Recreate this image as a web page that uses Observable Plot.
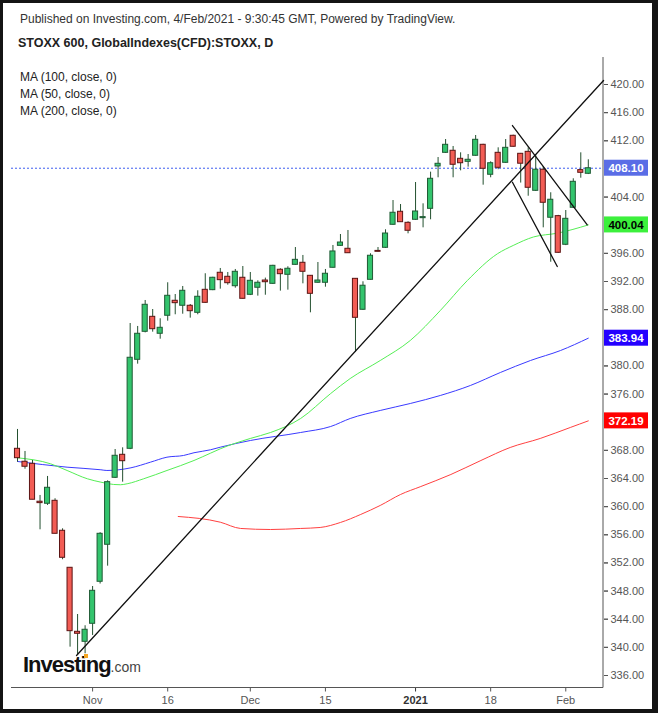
<!DOCTYPE html>
<html><head><meta charset="utf-8">
<script src="https://cdn.jsdelivr.net/npm/d3@7"></script>
<script src="https://cdn.jsdelivr.net/npm/@observablehq/plot@0.6"></script>
<style>
body{margin:0;background:#141414;font-family:"Liberation Sans",Arial,sans-serif;}
#wrap{position:relative;width:658px;height:713px;background:#141414;overflow:hidden}
#paper{position:absolute;left:3px;top:3px;width:649px;height:706px;background:#fff}
#chart{position:absolute;left:0;top:0}
.t{position:absolute;white-space:nowrap;color:#222;font-size:12px;line-height:14px}
</style></head><body>
<div id="wrap"><div id="paper"></div><div id="chart"></div>
<div class="t" style="left:20px;top:12px;color:#333">Published on Investing.com, 4/Feb/2021 - 9:30:45 GMT, Powered by TradingView.</div>
<div class="t" style="left:18px;top:36px;font-weight:bold;font-size:12.5px">STOXX 600, GlobalIndexes(CFD):STOXX, D</div>
<div id="legend"></div>
<div class="t" style="left:23px;top:652px;font-size:22px;line-height:26px;font-weight:bold;letter-spacing:-1px;color:#111">Investing<span style="font-size:14px;font-weight:normal;letter-spacing:0;color:#444">.com</span></div>
<div style="position:absolute;left:84px;top:654px;width:4px;height:4px;background:#f5a623"></div>
</div>
<script>
// ---- data ----
const dates = ["2020-10-19","2020-10-20","2020-10-21","2020-10-22","2020-10-23","2020-10-26","2020-10-27","2020-10-28","2020-10-29","2020-10-30",
"2020-11-02","2020-11-03","2020-11-04","2020-11-05","2020-11-06","2020-11-09","2020-11-10","2020-11-11","2020-11-12","2020-11-13","2020-11-16","2020-11-17","2020-11-18","2020-11-19","2020-11-20","2020-11-23","2020-11-24","2020-11-25","2020-11-26","2020-11-27","2020-11-30",
"2020-12-01","2020-12-02","2020-12-03","2020-12-04","2020-12-07","2020-12-08","2020-12-09","2020-12-10","2020-12-11","2020-12-14","2020-12-15","2020-12-16","2020-12-17","2020-12-18","2020-12-21","2020-12-22","2020-12-23","2020-12-24","2020-12-28","2020-12-29","2020-12-30","2020-12-31",
"2021-01-04","2021-01-05","2021-01-06","2021-01-07","2021-01-08","2021-01-11","2021-01-12","2021-01-13","2021-01-14","2021-01-15","2021-01-18","2021-01-19","2021-01-20","2021-01-21","2021-01-22","2021-01-25","2021-01-26","2021-01-27","2021-01-28","2021-01-29",
"2021-02-01","2021-02-02","2021-02-03","2021-02-04"];
const open = [368.22,366.38,366.09,360.70,360.41,360.83,356.57,351.31,342.21,340.79,
343.35,349.32,354.58,364.10,367.37,368.22,380.87,384.85,386.98,384.57,387.13,389.26,388.55,388.55,387.55,390.82,390.77,393.24,392.67,391.33,392.53,
390.11,391.11,392.14,391.67,393.67,392.95,394.37,394.66,392.81,391.82,391.82,393.95,397.07,396.65,392.38,387.98,392.24,396.35,396.79,400.06,401.91,400.34,
400.77,401.00,402.33,408.35,410.29,410.58,409.44,409.01,409.87,411.43,407.17,410.29,408.87,412.71,410.15,410.43,404.89,407.89,401.06,401.29,
397.22,402.48,407.83,407.31];
const high = [370.97,367.84,366.56,361.59,364.29,361.12,356.85,351.31,344.67,343.07,
348.65,356.30,363.67,368.12,368.36,386.03,385.61,389.30,388.02,386.70,391.82,390.15,391.29,388.73,390.68,393.10,392.60,393.85,393.28,393.71,394.13,
393.28,392.10,392.48,394.30,393.81,394.09,396.83,395.70,392.85,394.70,393.71,397.12,398.68,399.25,392.40,391.96,395.94,396.83,399.35,403.51,402.94,400.49,
406.07,403.04,407.54,409.62,412.18,411.19,410.29,410.05,412.75,411.50,409.01,411.00,412.18,412.80,410.20,411.00,410.01,408.30,404.61,401.40,
402.09,406.60,410.29,409.30];
const low = [366.32,365.32,360.98,356.71,360.17,356.14,352.45,340.03,338.85,339.09,
341.69,349.00,351.54,364.00,363.48,368.10,380.25,384.70,384.80,383.80,386.36,387.27,387.35,386.79,387.27,388.90,390.70,390.91,391.48,391.05,389.50,
390.00,389.92,390.05,391.60,390.63,390.77,394.30,391.67,387.55,391.75,391.19,393.90,397.00,396.00,381.95,387.90,392.20,396.20,396.70,400.00,400.40,398.78,
400.70,399.63,400.77,406.74,410.20,406.74,407.73,408.25,409.80,405.69,406.74,407.89,408.80,411.10,405.99,404.12,404.80,399.63,394.74,396.00,
397.10,402.40,406.68,407.20];
const close = [366.89,365.67,360.98,360.50,362.68,356.14,352.73,342.30,341.93,342.50,
348.04,356.14,363.48,367.23,366.46,381.16,384.57,388.69,385.22,385.42,389.97,388.92,390.68,387.78,389.83,388.97,392.53,392.19,391.76,393.38,389.54,
392.10,391.82,391.90,394.23,393.04,393.81,395.08,393.38,390.25,392.14,393.10,396.27,397.54,396.02,386.84,391.40,395.66,396.22,398.82,401.77,400.43,399.21,
401.95,401.15,406.60,408.73,411.43,408.59,408.81,409.30,412.14,408.02,408.81,408.16,411.00,411.15,408.74,405.32,407.89,403.19,403.62,396.08,
400.91,406.17,407.45,408.10];

// moving averages (sampled points: candle index, value)
const ma50Idx = [0,4.4,6.6,9.3,11.1,12.8,13.7,14.6,16.8,19.9,23.5,25.7,27.0,31.0,33.7,37.7,41.7,44.3,48.3,52.3,56.3,59.9,63.9,66.0,68.7,71.9,76];
const ma50Val = [366.94,366.09,365.14,363.96,363.48,363.15,363.11,363.25,363.96,365.14,366.56,367.6,368.22,369.69,370.54,372.53,376.08,378.21,380.77,383.62,387.88,392.14,395.94,397.12,398.33,398.87,400.04];
const ma100Idx = [0,6.6,11.1,11.9,15.1,17.7,19.9,22.1,23.5,25.7,27.0,31.0,37.7,41.7,44.3,48.3,52.3,56.3,60.3,64.3,68.3,72.3,76];
const ma100Val = [366.42,365.61,365.24,365.14,365.52,366.32,367.03,367.27,367.66,368.08,368.45,369.40,370.54,371.39,372.53,373.67,374.66,375.80,377.22,379.07,380.77,382.19,383.94];
const ma200Idx = [21.4,27.0,29.7,33.7,37.7,40.3,43.0,45.7,48.3,51.0,53.7,57.7,61.7,65.6,69.6,73.6,76];
const ma200Val = [358.60,357.79,356.90,356.75,356.90,357.04,357.75,358.89,360.17,361.73,362.86,364.57,366.56,368.41,369.69,371.25,372.19];

// drawn trendlines (candle index, price)
const trendIdx = [7.86, 78.03];   const trendVal = [338.85, 420.57];
const flagUpIdx = [65.9, 75.86];  const flagUpVal = [414.17, 400.06];
const flagLoIdx = [65.9, 71.87];  const flagLoVal = [406.11, 394.13];

const maLabels = ["MA (100, close, 0)", "MA (50, close, 0)", "MA (200, close, 0)"];
const badgeValues = [408.10, 400.04, 383.94, 372.19];
const yTicks = d3.range(336, 421, 4);
const xTickIdx = [10, 20, 31, 41, 53, 63, 73];
const xTickLabels = ["Nov", "16", "Dec", "15", "2021", "18", "Feb"];

// ---- build ----
const candles = dates.map((d, i) => ({i, date: d, o: open[i], h: high[i], l: low[i], c: close[i], up: close[i] >= open[i]}));
const pts = (I, V) => I.map((i, k) => ({i, v: V[k]}));
// tick labels hidden behind the price badges (as in the reference)
const yTickLabels = yTicks.filter(t => badgeValues.every(b => Math.abs(b - t) > 1.5));

const legend = document.getElementById("legend");
const legendTop = [70, 87, 104];
maLabels.forEach((t, k) => {
  const el = document.createElement("div");
  el.className = "t"; el.style.left = "20px"; el.style.top = legendTop[k] + "px";
  el.textContent = t; legend.appendChild(el);
});

const badgeFill = ["#5a6de6", "#3cf03c", "#2400ff", "#ff0000"];
const badgeInk = ["#fff", "#000", "#fff", "#fff"];

const frameLines = (index, scales, values, dims) => {
  const g = d3.create("svg:g").attr("stroke", "#555").attr("fill", "none");
  const xr = dims.width - dims.marginRight, yb = dims.height - dims.marginBottom;
  g.append("line").attr("x1", xr).attr("x2", xr).attr("y1", dims.marginTop).attr("y2", yb);
  g.append("line").attr("x1", dims.marginLeft).attr("x2", xr).attr("y1", yb).attr("y2", yb);
  return g.node();
};
const badges = (index, scales, values, dims) => {
  const g = d3.create("svg:g");
  const x0 = dims.width - dims.marginRight + 1;
  badgeValues.forEach((v, k) => {
    const yy = scales.y(v);
    g.append("rect").attr("x", x0).attr("y", yy - 8).attr("width", 44).attr("height", 16).attr("fill", badgeFill[k]);
    g.append("text").attr("x", x0 + 22).attr("y", yy).attr("dy", "0.36em").attr("text-anchor", "middle")
      .attr("fill", badgeInk[k]).attr("font-weight", "bold").attr("font-size", 11.5).text(v.toFixed(2));
  });
  return g.node();
};

const chart = Plot.plot({
  width: 658, height: 713,
  marginLeft: 11, marginRight: 55, marginTop: 57, marginBottom: 25.5,
  style: {background: "transparent", fontFamily: "Liberation Sans, Arial, sans-serif", fontSize: "11px", color: "#555", overflow: "visible"},
  x: {type: "linear", domain: [0, 76], range: [17, 587.8], label: null},
  y: {domain: [336, 420], range: [675, 84], label: null},
  marks: [
    Plot.axisY(yTicks, {anchor: "right", tickSize: 4, tickFormat: null, text: null, label: null, color: "#555"}),
    Plot.axisY(yTickLabels, {anchor: "right", tickSize: 4, tickPadding: 3, tickFormat: d => d.toFixed(2), label: null, color: "#555", fontSize: 11}),
    Plot.axisX(xTickIdx.filter(d => d !== 53), {anchor: "bottom", tickSize: 4, tickPadding: 4, tickFormat: d => xTickLabels[xTickIdx.indexOf(d)], label: null, color: "#555", fontSize: 11}),
    Plot.axisX([53], {anchor: "bottom", tickSize: 4, tickPadding: 4, tickFormat: d => xTickLabels[xTickIdx.indexOf(d)], label: null, color: "#333", fontSize: 11, fontWeight: "bold"}),
    frameLines,
    Plot.line(pts(ma200Idx, ma200Val), {x: "i", y: "v", stroke: "#ff4040", strokeWidth: 1, curve: "monotone-x"}),
    Plot.line(pts(ma100Idx, ma100Val), {x: "i", y: "v", stroke: "#3a3aff", strokeWidth: 1, curve: "monotone-x"}),
    Plot.line(pts(ma50Idx, ma50Val), {x: "i", y: "v", stroke: "#55ee55", strokeWidth: 1, curve: "monotone-x"}),
    Plot.ruleY([close[close.length - 1]], {stroke: "#3d5ef0", strokeDasharray: "2,2", strokeWidth: 1}),
    Plot.ruleX(candles, {x: "i", y1: "l", y2: "h", stroke: "#23502f", strokeWidth: 1}),
    Plot.rect(candles, {x1: d => d.i - 0.34, x2: d => d.i + 0.34, y1: "o", y2: "c",
      fill: d => d.up ? "#33c46d" : "#f25c54", stroke: d => d.up ? "#1f5a34" : "#5c1414", strokeWidth: 1}),
    Plot.line(pts(trendIdx, trendVal), {x: "i", y: "v", stroke: "#111", strokeWidth: 1.3}),
    Plot.line(pts(flagUpIdx, flagUpVal), {x: "i", y: "v", stroke: "#111", strokeWidth: 1.3}),
    Plot.line(pts(flagLoIdx, flagLoVal), {x: "i", y: "v", stroke: "#111", strokeWidth: 1.3}),
    badges
  ]
});
document.getElementById("chart").appendChild(chart);
</script>
</body></html>
